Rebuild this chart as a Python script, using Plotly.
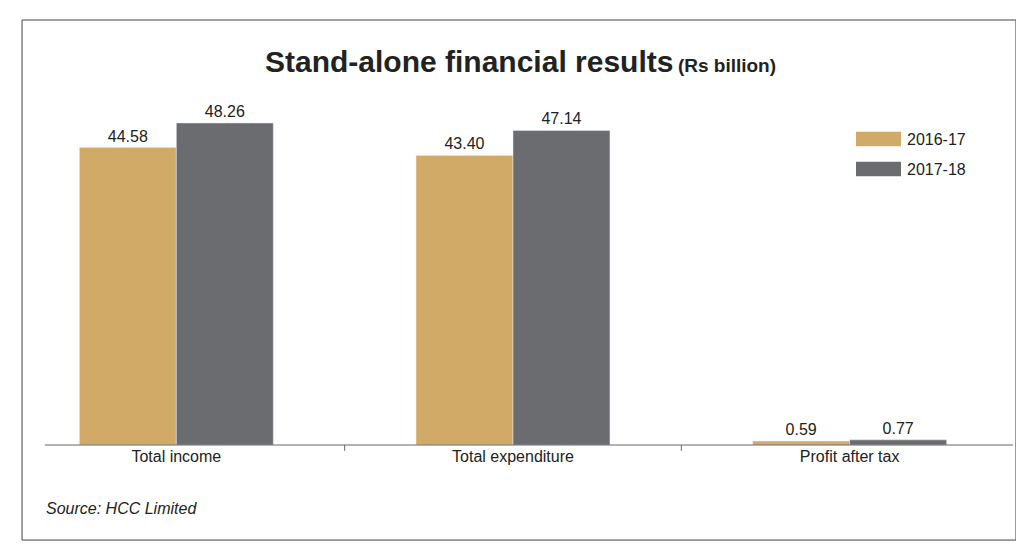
import plotly.graph_objs as go

categories = ['Total income', 'Total expenditure', 'Profit after tax']
series_names = ['2016-17', '2017-18']
fy17 = [44.58, 43.40, 0.59]
fy18 = [48.26, 47.14, 0.77]
colors = ['#D2AA67', '#6B6C70']

font = 'Liberation Sans Narrow, Arial Narrow, sans-serif'

fig = go.Figure([
    go.Bar(name=series_names[0], x=categories, y=fy17, marker_color=colors[0],
           text=[f'{v:.2f}' for v in fy17], textposition='outside', cliponaxis=False),
    go.Bar(name=series_names[1], x=categories, y=fy18, marker_color=colors[1],
           text=[f'{v:.2f}' for v in fy18], textposition='outside', cliponaxis=False),
])
fig.update_traces(textfont=dict(size=16, color='#222'))

shapes = [
    dict(type='rect', xref='paper', yref='paper', x0=0.0139, x1=0.998,
         y0=-0.259, y1=1.158, line=dict(color='#444', width=1)),
    dict(type='line', xref='paper', yref='paper', x0=0.0366, x1=0.995,
         y0=0, y1=0, line=dict(color='#666', width=1)),
    dict(type='line', xref='x', yref='paper', x0=0.5, x1=0.5,
         y0=0, y1=-0.016, line=dict(color='#666', width=1)),
    dict(type='line', xref='x', yref='paper', x0=1.5, x1=1.5,
         y0=0, y1=-0.016, line=dict(color='#666', width=1)),
]
annotations = [
    dict(xref='paper', yref='paper', x=0.507, y=1.045, xanchor='center',
         yanchor='middle', showarrow=False,
         text='<b><span style="font-size:30px">Stand-alone financial results</span>'
              ' <span style="font-size:19px">(Rs billion)</span></b>'),
    dict(xref='paper', yref='paper', x=0.036, y=-0.172, xanchor='left',
         yanchor='middle', showarrow=False,
         text='<i>Source: HCC Limited</i>', font=dict(size=16)),
]
# custom legend with wide swatches
for i, (name, c) in enumerate(zip(series_names, colors)):
    yc = (437 - 131 - 30 * i) / 367
    shapes.append(dict(type='rect', xref='paper', yref='paper', x0=848 / 1010, x1=893 / 1010,
                       y0=yc - 0.02, y1=yc + 0.02, fillcolor=c, line=dict(width=0)))
    annotations.append(dict(xref='paper', yref='paper', x=897 / 1010, y=yc, xanchor='left',
                            yanchor='middle', showarrow=False, text=name, font=dict(size=16)))

fig.update_layout(
    width=1024, height=543,
    margin=dict(l=0, r=14, t=70, b=106, autoexpand=False),
    paper_bgcolor='white', plot_bgcolor='white',
    barmode='group', bargap=0.424, bargroupgap=0,
    font=dict(family=font, color='#222', size=16),
    showlegend=False,
    xaxis=dict(showline=False, ticks='', tickfont=dict(size=16), automargin=False,
               range=[-0.5, 2.5]),
    yaxis=dict(range=[0, 55], visible=False, automargin=False),
    shapes=shapes,
    annotations=annotations,
)

fig.write_html('out.html')
